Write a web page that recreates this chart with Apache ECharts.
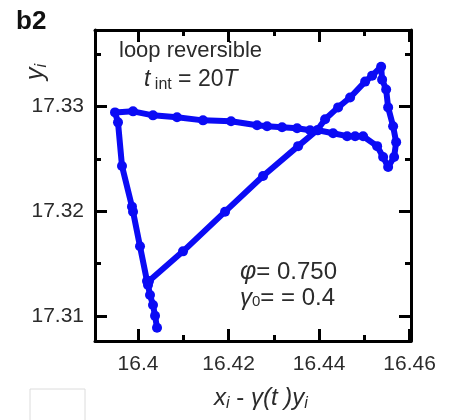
<!DOCTYPE html>
<html>
<head>
<meta charset="utf-8">
<script src="https://cdn.jsdelivr.net/npm/echarts@6/dist/echarts.min.js"></script>
<style>
  html, body { margin: 0; padding: 0; background: #fff; }
  #chart { width: 452px; height: 420px; }
</style>
</head>
<body>
<div id="chart"></div>
<script>
// trajectory, in plotting order
const xValues = [
  16.40420, 16.40376, 16.40331, 16.40265, 16.40221, 16.40199, 16.40044, 16.39890,
  16.39867, 16.39646, 16.39558, 16.39492, 16.39890, 16.40331, 16.40862, 16.41436,
  16.42055, 16.42630, 16.42851, 16.43182, 16.43514, 16.43801, 16.43978, 16.44309,
  16.44619, 16.44796, 16.44972, 16.45282, 16.45414, 16.45525, 16.45657, 16.45702,
  16.45635, 16.45525, 16.45481, 16.45392, 16.45370, 16.45171, 16.45017, 16.44685,
  16.44420, 16.44133, 16.43956, 16.43536, 16.42762, 16.41923, 16.40994, 16.40243
];
const yValues = [
  17.30886, 17.31000, 17.31104, 17.31199, 17.31294, 17.31332, 17.31664, 17.31995,
  17.32043, 17.32431, 17.32848, 17.32943, 17.32953, 17.32915, 17.32896, 17.32867,
  17.32858, 17.32820, 17.32810, 17.32801, 17.32791, 17.32773, 17.32773, 17.32744,
  17.32716, 17.32716, 17.32716, 17.32621, 17.32517, 17.32422, 17.32517, 17.32659,
  17.32810, 17.32991, 17.33161, 17.33256, 17.33379, 17.33294, 17.33237, 17.33085,
  17.32991, 17.32877, 17.32773, 17.32621, 17.32336, 17.31995, 17.31616, 17.31332
];

const xRange = [16.3905, 16.4603];
const yRange = [17.3076, 17.3373];
const xMajorTicks = [16.40, 16.42, 16.44, 16.46];
const xMinorTicks = [16.41, 16.43, 16.45];
const yMajorTicks = [17.31, 17.32, 17.33];
const yMinorTicks = [17.315, 17.325, 17.335];

const FONT = "'Liberation Sans', Arial, sans-serif";
const TXT = '#2b2b2b';
const BLUE = '#0b0bf5';

// one axis: major ones carry the frame line, only the first pair has labels
function makeAxis(range, position, ticks, len, frame, labels) {
  return {
    type: 'value',
    position: position,
    min: range[0],
    max: range[1],
    axisLine: { show: frame, lineStyle: { color: '#000', width: 3 } },
    axisTick: {
      show: true,
      inside: true,
      length: len,
      customValues: ticks,
      lineStyle: { color: '#000', width: 3 }
    },
    axisLabel: labels ? {
      show: true,
      customValues: labels,
      margin: position === 'left' ? 11 : 13,
      color: TXT,
      fontFamily: FONT,
      fontSize: 21,
      formatter: v => String(Math.round(v * 1000) / 1000)
    } : { show: false },
    splitLine: { show: false }
  };
}

const chart = echarts.init(document.getElementById('chart'));

const option = {
  animation: false,
  backgroundColor: '#fff',
  grid: { left: 95, right: 41, top: 30, bottom: 79, show: false },
  xAxis: [
    makeAxis(xRange, 'bottom', xMajorTicks, 12, true, xMajorTicks),
    makeAxis(xRange, 'bottom', xMinorTicks, 6, false),
    makeAxis(xRange, 'top', xMajorTicks, 12, true),
    makeAxis(xRange, 'top', xMinorTicks, 6, false)
  ],
  yAxis: [
    makeAxis(yRange, 'left', yMajorTicks, 12, true, yMajorTicks),
    makeAxis(yRange, 'left', yMinorTicks, 6, false),
    makeAxis(yRange, 'right', yMajorTicks, 12, true),
    makeAxis(yRange, 'right', yMinorTicks, 6, false)
  ],
  series: [{
    type: 'line',
    xAxisIndex: 0,
    yAxisIndex: 0,
    data: xValues.map((x, i) => [x, yValues[i]]),
    symbol: 'circle',
    symbolSize: 10,
    showSymbol: true,
    color: BLUE,
    lineStyle: { width: 6, color: BLUE },
    itemStyle: { color: BLUE },
    z: 3
  }],
  graphic: [
    { type: 'text', left: 16, top: 9,
      style: { text: 'b2', fontFamily: FONT, fontWeight: 'bold', fontSize: 26, fill: '#111' } },
    { type: 'text', x: 36, y: 72, rotation: Math.PI / 2,
      style: {
        text: '{i|y}{s|i}', align: 'center', verticalAlign: 'middle',
        rich: {
          i: { fontFamily: FONT, fontStyle: 'italic', fontSize: 25, fill: TXT },
          s: { fontFamily: FONT, fontStyle: 'italic', fontSize: 16, fill: TXT, padding: [11, 0, 0, 0] }
        }
      } },
    { type: 'text', x: 261, y: 398,
      style: {
        text: '{i|x}{s|i}{n| - }{i|γ(t )y}{s|i}', align: 'center', verticalAlign: 'middle',
        rich: {
          i: { fontFamily: FONT, fontStyle: 'italic', fontSize: 24, fill: TXT },
          n: { fontFamily: FONT, fontSize: 24, fill: TXT },
          s: { fontFamily: FONT, fontStyle: 'italic', fontSize: 16, fill: TXT, padding: [11, 0, 0, 0] }
        }
      } },
    { type: 'text', x: 119, y: 51,
      style: { text: 'loop reversible', verticalAlign: 'middle', fontFamily: FONT, fontSize: 22, fill: TXT } },
    { type: 'text', x: 144, y: 80,
      style: {
        text: '{i|t}{s| int}{n| = 20}{i|T}', verticalAlign: 'middle',
        rich: {
          i: { fontFamily: FONT, fontStyle: 'italic', fontSize: 23, fill: TXT },
          n: { fontFamily: FONT, fontSize: 23, fill: TXT },
          s: { fontFamily: FONT, fontSize: 16, fill: TXT, padding: [10, 0, 0, 0] }
        }
      } },
    { type: 'text', x: 240, y: 272,
      style: {
        text: '{i|φ}{n|= 0.750}', verticalAlign: 'middle',
        rich: {
          i: { fontFamily: FONT, fontStyle: 'italic', fontSize: 25, fill: TXT },
          n: { fontFamily: FONT, fontSize: 24, fill: TXT }
        }
      } },
    { type: 'text', x: 240, y: 298,
      style: {
        text: '{i|γ}{s|0}{n|= = 0.4}', verticalAlign: 'middle',
        rich: {
          i: { fontFamily: FONT, fontStyle: 'italic', fontSize: 24, fill: TXT },
          s: { fontFamily: FONT, fontSize: 15, fill: TXT, padding: [8, 0, 0, 0] },
          n: { fontFamily: FONT, fontSize: 24, fill: TXT }
        }
      } },
    { type: 'rect', shape: { x: 30, y: 389, width: 55, height: 40 },
      style: { fill: 'none', stroke: '#dcdcdc', lineWidth: 1 } }
  ]
};

chart.setOption(option);
</script>
</body>
</html>
